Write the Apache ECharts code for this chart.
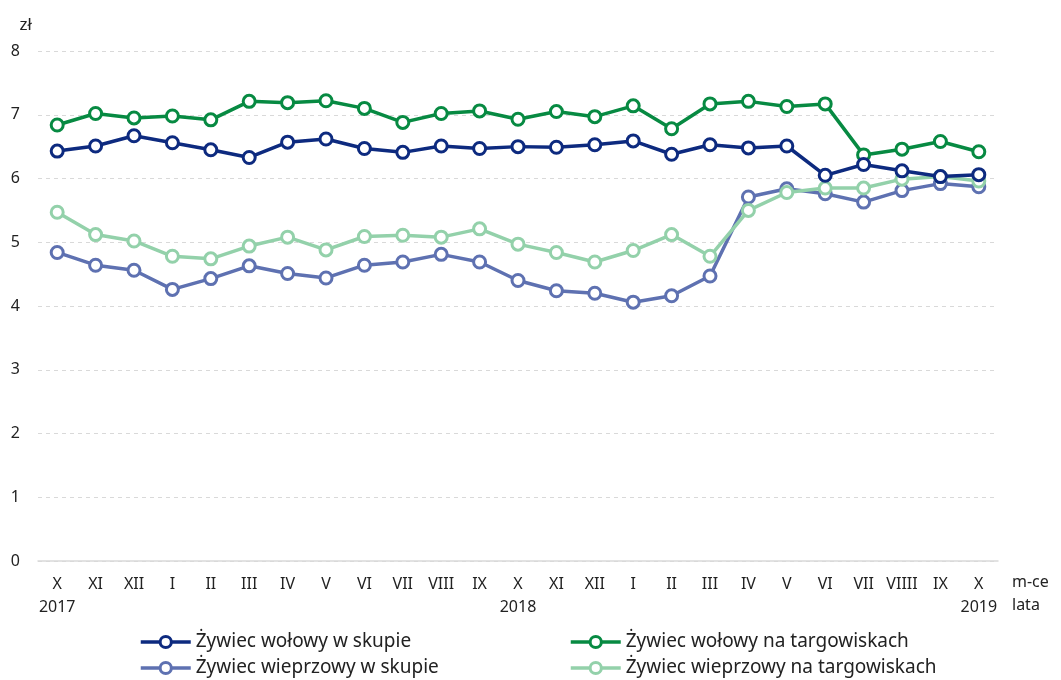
<!DOCTYPE html>
<html>
<head>
<meta charset="utf-8">
<script src="https://cdn.jsdelivr.net/npm/echarts@6/dist/echarts.min.js"></script>
<style>html,body{margin:0;padding:0;background:#fff;}#c{width:1061px;height:680px;}</style>
</head>
<body>
<div id="c"></div>
<script>
var months = ['X','XI','XII','I','II','III','IV','V','VI','VII','VIII','IX','X','XI','XII','I','II','III','IV','V','VI','VII','VIIII','IX','X'];
var years = ['2017','','','','','','','','','','','','2018','','','','','','','','','','','','2019'];
var yTicks = [0,1,2,3,4,5,6,7,8];
var wolowySkup = [6.43,6.51,6.67,6.56,6.45,6.33,6.57,6.62,6.47,6.41,6.51,6.47,6.50,6.49,6.53,6.59,6.38,6.53,6.48,6.51,6.05,6.22,6.12,6.03,6.06];
var wolowyTarg = [6.84,7.02,6.95,6.98,6.92,7.21,7.19,7.22,7.10,6.88,7.02,7.06,6.93,7.05,6.97,7.14,6.78,7.17,7.21,7.13,7.17,6.37,6.46,6.58,6.42];
var wieprzSkup = [4.84,4.64,4.56,4.26,4.43,4.63,4.51,4.44,4.64,4.69,4.81,4.69,4.40,4.24,4.20,4.06,4.16,4.47,5.71,5.84,5.76,5.63,5.81,5.92,5.87];
var wieprzTarg = [5.47,5.12,5.02,4.78,4.74,4.94,5.08,4.88,5.09,5.11,5.08,5.21,4.97,4.84,4.69,4.87,5.12,4.78,5.50,5.78,5.85,5.85,5.99,6.03,5.96];
var names = ['Żywiec wołowy w skupie','Żywiec wołowy na targowiskach','Żywiec wieprzowy w skupie','Żywiec wieprzowy na targowiskach'];
var colors = ['#0d2a7f','#078a42','#5e71b1','#93d1aa'];

var font = 'Noto Sans';
function mk(i, data, z) {
  return {
    name: names[i], type: 'line', data: data, z: z,
    symbol: 'circle', symbolSize: 12,
    lineStyle: {color: colors[i], width: 3.5},
    itemStyle: {color: '#fff', borderColor: colors[i], borderWidth: 3},
    emphasis: {disabled: true}
  };
}
function lg(name, left, top) {
  return {
    orient: 'horizontal', left: left, top: top, itemWidth: 50, itemHeight: 14,
    data: [name], padding: 0,
    lineStyle: {width: 3.5},
    itemStyle: {borderWidth: 3},
    textStyle: {color: '#222', fontSize: 19, fontFamily: font, lineHeight: 20},
    selectedMode: false
  };
}
var chart = echarts.init(document.getElementById('c'), null, {renderer: 'canvas'});
chart.setOption({
  animation: false,
  color: colors,
  textStyle: {fontFamily: font},
  grid: {left: 38, right: 63, top: 51, bottom: 119, containLabel: false},
  xAxis: {
    type: 'category', boundaryGap: true,
    data: months,
    axisLine: {show: true, lineStyle: {color: '#d9d9d9', width: 1.5}},
    axisTick: {show: false},
    axisLabel: {
      interval: 0, margin: 12, color: '#222', fontSize: 16, fontFamily: font, lineHeight: 23,
      formatter: function(v, i){ return years[i] ? v + '\n' + years[i] : v; }
    },
    name: 'm-ce\nlata', nameLocation: 'end', nameGap: 14,
    nameTextStyle: {color: '#222', fontSize: 16, fontFamily: font, align: 'left', verticalAlign: 'top', lineHeight: 23, padding: [10, 0, 0, 0]}
  },
  yAxis: {
    type: 'value', min: 0, max: 8, interval: 1,
    axisLine: {show: false}, axisTick: {show: false},
    axisLabel: {color: '#222', fontSize: 16, fontFamily: font, margin: 18},
    splitLine: {show: true, lineStyle: {color: '#d9d9d9', type: [4, 4], width: 1}},
    name: 'zł', nameLocation: 'end', nameGap: 17,
    nameTextStyle: {color: '#222', fontSize: 17, fontFamily: font, align: 'right', padding: [0, 6, 0, 0]}
  },
  legend: [
    lg(names[0], 139, 632),
    lg(names[2], 139, 658),
    lg(names[1], 569, 632),
    lg(names[3], 569, 658)
  ],
  series: [
    mk(0, wolowySkup, 4),
    mk(1, wolowyTarg, 3),
    mk(2, wieprzSkup, 2),
    mk(3, wieprzTarg, 3)
  ]
});
</script>
</body>
</html>
